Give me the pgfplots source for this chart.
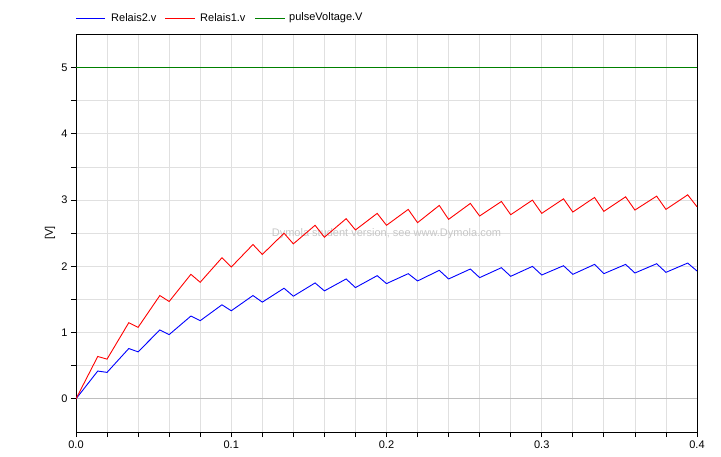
\documentclass[border=0pt]{standalone}
\usepackage{pgfplots}
\usepackage{pgfplotstable}
\pgfplotsset{compat=1.18}
\usepackage{fontspec}
\setmainfont{Liberation Sans}

\definecolor{gridgray}{HTML}{E0E0E0}
\definecolor{zerogray}{HTML}{BEBEBE}
\definecolor{dymgreen}{HTML}{008000}

% t, Relais2.v, Relais1.v
\pgfplotstableread{
t     r2    r1
0.000 0.00  0.00
0.014 0.42  0.64
0.020 0.40  0.60
0.034 0.76  1.15
0.040 0.71  1.08
0.054 1.04  1.56
0.060 0.97  1.47
0.074 1.25  1.88
0.080 1.18  1.76
0.094 1.42  2.13
0.100 1.33  1.99
0.114 1.56  2.33
0.120 1.46  2.18
0.134 1.67  2.50
0.140 1.55  2.34
0.154 1.75  2.62
0.160 1.63  2.44
0.174 1.81  2.72
0.180 1.68  2.55
0.194 1.86  2.80
0.200 1.74  2.62
0.214 1.89  2.86
0.220 1.78  2.66
0.234 1.94  2.92
0.240 1.81  2.71
0.254 1.96  2.95
0.260 1.83  2.76
0.274 1.98  2.98
0.280 1.85  2.78
0.294 2.00  3.00
0.300 1.87  2.80
0.314 2.01  3.02
0.320 1.88  2.82
0.334 2.03  3.04
0.340 1.89  2.83
0.354 2.03  3.05
0.360 1.90  2.85
0.374 2.04  3.06
0.380 1.91  2.86
0.394 2.05  3.08
0.400 1.93  2.90
}\relaisdata

\begin{document}
\begin{tikzpicture}[lbl/.style={anchor=west, inner sep=0pt, font=\fontsize{11bp}{13bp}\selectfont}]
\useasboundingbox (0,0) rectangle (721bp,457bp);
\begin{axis}[
    at={(76bp,25bp)}, anchor=south west,
    scale only axis,
    width=621bp, height=397.5bp,
    xmin=0, xmax=0.4,
    ymin=-0.5, ymax=5.5,
    xtick={0,0.1,0.2,0.3,0.4},
    minor x tick num=4,
    ytick={0,1,2,3,4,5},
    minor y tick num=1,
    grid=both,
    major grid style={color=gridgray, line width=0.8bp},
    minor grid style={color=gridgray, line width=0.8bp},
    tick align=outside,
    tick pos=left,
    major tick length=5bp,
    minor tick length=5bp,
    tick style={black, line width=0.8bp},
    axis line style={black, line width=0.8bp},
    /pgf/number format/assume math mode=true,
    tick label style={font=\fontsize{11bp}{13bp}\selectfont},
    xticklabel style={/pgf/number format/fixed, /pgf/number format/fixed zerofill, /pgf/number format/precision=1},
    ylabel={{[}V{]}},
    ylabel style={at={(axis description cs:-0.042,0.5)}, anchor=center, font=\fontsize{11bp}{13bp}\selectfont},
]
\node[text=black!22, font=\fontsize{11bp}{13bp}\selectfont] at (rel axis cs:0.5,0.5) {Dymola student version, see www.Dymola.com};
\addplot[zerogray, line width=0.8bp, forget plot] coordinates {(0,0) (0.4,0)};
\addplot[blue, line width=0.9bp] table[x=t, y=r2] {\relaisdata};
\addplot[red, line width=0.9bp] table[x=t, y=r1] {\relaisdata};
\addplot[dymgreen, line width=0.9bp] coordinates {(0,5) (0.4,5)};
\end{axis}
% legend keys above the axis
\draw[blue, line width=0.9bp] (76bp,439bp) -- (105bp,439bp);
\node[lbl] at (111bp,439bp) {Relais2.v};
\draw[red, line width=0.9bp] (165bp,439bp) -- (195bp,439bp);
\node[lbl] at (200bp,439bp) {Relais1.v};
\draw[dymgreen, line width=0.9bp] (255bp,439bp) -- (285bp,439bp);
\node[lbl] at (289bp,439bp) {pulseVoltage.V};
\end{tikzpicture}
\end{document}
